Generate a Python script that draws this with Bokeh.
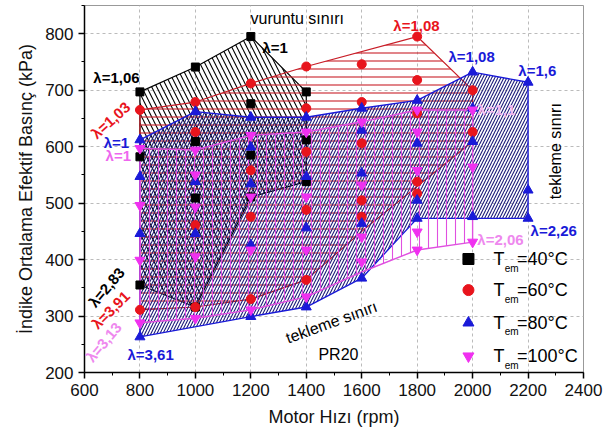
from bokeh.plotting import figure
from bokeh.models import Range1d, Label, SingleIntervalTicker
from bokeh.embed import file_html
from bokeh.resources import INLINE
import math

# ---- data: measured points (speed rpm, IMEP kPa) ----
t40_x = [800, 800, 800, 1000, 1000, 1000, 1000, 1200, 1200, 1200, 1200, 1400, 1400, 1400]
t40_y = [697, 582, 355, 741, 609, 509, 316, 795, 676, 585, 511, 697, 612, 538]

t60_x = [800, 800, 1000, 1000, 1000, 1000, 1200, 1200, 1200, 1200,
         1400, 1400, 1400, 1400, 1400, 1600, 1600, 1600, 1600, 1600,
         1800, 1800, 1800, 1800, 1800, 2000, 2000]
t60_y = [665, 311, 679, 626, 461, 316, 712, 558, 476, 330,
         742, 668, 591, 488, 364, 746, 679, 606, 505, 476,
         795, 718, 659, 538, 517, 700, 626]

t80_x = [800, 800, 800, 800, 1000, 1000, 1000, 1200, 1200, 1200, 1200, 1200,
         1400, 1400, 1400, 1400, 1600, 1600, 1600, 1600, 1600,
         1800, 1800, 1800, 1800, 2000, 2000, 2000, 2000, 2200, 2200, 2200]
t80_y = [612, 547, 446, 263, 662, 538, 446, 652, 599, 534, 426, 299,
         652, 547, 456, 316, 668, 629, 553, 464, 367,
         682, 606, 505, 473, 732, 668, 609, 476, 714, 523, 473]

t100_x = [800, 800, 800, 800, 1000, 1000, 1000, 1000, 1000, 1200, 1200, 1200, 1200,
          1400, 1400, 1400, 1400, 1600, 1600, 1600, 1600,
          1800, 1800, 1800, 1800, 1800, 2000, 2000, 2000]
t100_y = [597, 496, 399, 288, 594, 550, 493, 405, 296, 620, 511, 417, 311,
          626, 511, 417, 334, 644, 532, 440, 396,
          665, 626, 558, 449, 417, 665, 564, 431]

# ---- operating-region boundaries ----
b40_x = [800, 1000, 1200, 1400, 1400, 1200, 1000, 800]
b40_y = [697, 741, 795, 697, 538, 511, 316, 355]
b60_x = [800, 1000, 1200, 1400, 1800, 2000, 2000, 1800, 1600, 1400, 1200, 1000, 800]
b60_y = [665, 679, 712, 742, 795, 700, 609, 530, 450, 364, 330, 316, 311]
b80_x = [800, 1000, 1200, 1400, 1600, 1800, 2000, 2200, 2200, 1800, 1600, 1400, 1200, 800]
b80_y = [612, 662, 652, 652, 668, 682, 732, 714, 473, 473, 367, 316, 299, 263]
b100_x = [800, 1000, 1200, 1400, 1600, 1800, 2000, 2000, 1800, 1600, 1400, 1200, 1000, 800]
b100_y = [597, 594, 620, 626, 644, 665, 665, 431, 417, 378, 334, 311, 296, 288]

legend_labels = ["=40°C", "=60°C", "=80°C", "=100°C"]

BLACK = "#000000"
RED = "#e8141c"
RED_L = "#c81e28"
BLUE = "#1a1ad8"
NAVY = "#1c1c7a"
PINK = "#f030f0"
PINK_L = "#e050e0"
FONT = "Liberation Sans"

p = figure(width=603, height=439, output_backend="svg", toolbar_location=None,
           x_range=Range1d(600, 2400), y_range=Range1d(200, 850),
           min_border_left=84, min_border_right=20, min_border_top=5, min_border_bottom=67)
p.background_fill_color = "white"
p.border_fill_color = "white"
p.outline_line_color = "#999999"

# regions (hatched)
p.patch(b40_x, b40_y, fill_color=None, line_color=BLACK, line_width=1.2,
        hatch_pattern="\\", hatch_color=BLACK, hatch_scale=10, hatch_weight=1.1)
p.patch(b60_x, b60_y, fill_color=None, line_color=RED_L, line_width=1.2,
        hatch_pattern="-", hatch_color=RED_L, hatch_scale=8, hatch_weight=1.1)
p.patch(b80_x, b80_y, fill_color=None, line_color=BLUE, line_width=1.4,
        hatch_pattern="/", hatch_color=NAVY, hatch_scale=6, hatch_weight=1.1)
p.patch(b100_x, b100_y, fill_color=None, line_color=PINK_L, line_width=1.4,
        hatch_pattern="|", hatch_color=PINK_L, hatch_scale=9, hatch_weight=1.1)

# markers
p.scatter(t40_x, t40_y, marker="square", size=8, color=BLACK)
p.scatter(t60_x, t60_y, marker="circle", size=9, color=RED)
p.scatter(t80_x, t80_y, marker="triangle", size=10, color=BLUE)
p.scatter(t100_x, t100_y, marker="inverted_triangle", size=10, color=PINK)

# axes
for ax in (p.xaxis[0], p.yaxis[0]):
    ax.axis_line_width = 1.5
    ax.major_tick_line_width = 1.5
    ax.major_tick_out = 6
    ax.major_tick_in = 0
    ax.minor_tick_out = 3
    ax.minor_tick_in = 0
    ax.major_label_text_font = FONT
    ax.major_label_text_font_size = "17px"
    ax.major_label_text_color = "#111111"
    ax.axis_label_text_font = FONT
    ax.axis_label_text_font_size = "18px"
    ax.axis_label_text_font_style = "normal"
    ax.axis_label_text_color = "#111111"
p.xaxis.axis_label_standoff = 8
p.yaxis.axis_label_standoff = 6
p.xaxis.ticker = SingleIntervalTicker(interval=200, num_minor_ticks=2)
p.yaxis.ticker = SingleIntervalTicker(interval=100, num_minor_ticks=2)
p.xaxis.axis_label = "Motor Hızı (rpm)"
p.yaxis.axis_label = "İndike Ortalama Efektif Basınç (kPa)"
p.xgrid.ticker = SingleIntervalTicker(interval=200)
p.ygrid.ticker = SingleIntervalTicker(interval=100)
p.grid.grid_line_color = "#bbbbbb"
p.grid.grid_line_dash = "3 3"
p.grid.grid_line_width = 1


def lab(x, y, text, color=BLACK, size="15px", bold=True, angle=0.0, align="left", alpha=1.0):
    p.add_layout(Label(x=x, y=y, text=text, text_color=color, text_font=FONT,
                       text_font_size=size, text_font_style="bold" if bold else "normal",
                       angle=angle, text_align=align, text_baseline="middle", text_alpha=alpha))


lab(1199, 827, "vuruntu sınırı", bold=False, size="16px")
lab(1242, 776, "λ=1")
lab(632, 723, "λ=1,06")
lab(694, 647, "λ=1,03", color=RED, angle=math.radians(42), align="center")
lab(669, 608, "λ=1", color=BLUE)
lab(676, 585, "λ=1", color="#ee66ee")
lab(1714, 815, "λ=1,08", color=RED)
lab(1913, 760, "λ=1,08", color=BLUE)
lab(2165, 735, "λ=1,6", color=BLUE)
lab(2017, 665, "λ=1,1", color="#f2b8f2")
lab(2299, 592, "tekleme sınırı", bold=False, size="16px", angle=math.pi / 2, align="center")
lab(2209, 452, "λ=2,26", color=BLUE)
lab(2017, 436, "λ=2,06", color="#ee88ee")
lab(1491, 289, "tekleme sınırı", bold=False, size="16px", angle=math.radians(20), align="center")
lab(1516, 231, "PR20", bold=False, size="16px", align="center")
lab(679, 351, "λ=2,83", angle=math.radians(50), align="center")
lab(694, 311, "λ=3,91", color=RED, angle=math.radians(45), align="center")
lab(669, 254, "λ=3,13", color="#ee88ee", angle=math.radians(50), align="center")
lab(755, 231, "λ=3,61", color=BLUE)

# legend (drawn by hand for the subscript)
leg_y = [401, 346, 288, 229]
leg_markers = ["square", "circle", "triangle", "inverted_triangle"]
leg_colors = [BLACK, RED, BLUE, PINK]
for yy, mk, col, txt in zip(leg_y, leg_markers, leg_colors, legend_labels):
    p.scatter([1985], [yy], marker=mk, size=11, color=col)
    lab(2075, yy, "T", bold=False, size="18px")
    lab(2116, yy - 16, "em", bold=False, size="10px")
    lab(2160, yy, txt, bold=False, size="18px")

open("out.html", "w").write(file_html(p, INLINE))
